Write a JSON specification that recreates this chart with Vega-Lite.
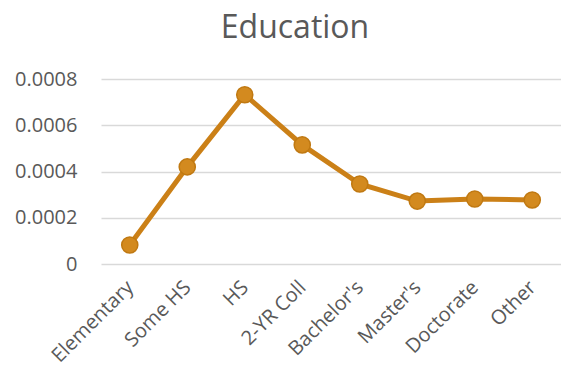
{
  "$schema": "https://vega.github.io/schema/vega-lite/v6.json",
  "width": 460,
  "height": 185,
  "autosize": {"type": "none"},
  "padding": {"left": 101, "top": 79, "right": 0, "bottom": 111},
  "background": "white",
  "title": {
    "text": "Education",
    "font": "Open Sans",
    "fontSize": 32,
    "fontWeight": "normal",
    "color": "#595959",
    "anchor": "middle",
    "frame": "group",
    "dx": -36,
    "offset": 24
  },
  "data": {
    "values": [
      {"level": "Elementary", "value": 0.000082},
      {"level": "Some HS", "value": 0.00042},
      {"level": "HS", "value": 0.000732},
      {"level": "2-YR Coll", "value": 0.000515},
      {"level": "Bachelor's", "value": 0.000346},
      {"level": "Master's", "value": 0.000272},
      {"level": "Doctorate", "value": 0.000281},
      {"level": "Other", "value": 0.000277}
    ]
  },
  "config": {
    "view": {"stroke": null},
    "axis": {
      "labelFont": "Open Sans",
      "labelColor": "#595959",
      "labelFontSize": 20,
      "domain": false,
      "ticks": false,
      "title": null
    }
  },
  "encoding": {
    "x": {
      "field": "level",
      "type": "ordinal",
      "sort": null,
      "scale": {"paddingInner": 0, "paddingOuter": 0.5},
      "axis": {
        "labelAngle": -45,
        "labelAlign": "right",
        "labelBaseline": "middle",
        "labelPadding": 20,
        "grid": false
      }
    },
    "y": {
      "field": "value",
      "type": "quantitative",
      "scale": {"domain": [0, 0.0008], "nice": false},
      "axis": {
        "values": [0, 0.0002, 0.0004, 0.0006, 0.0008],
        "labelExpr": "datum.value == 0 ? '0' : format(datum.value, '.4f')",
        "labelPadding": 24,
        "grid": true,
        "gridColor": "#D9D9D9",
        "gridWidth": 1.5
      }
    }
  },
  "layer": [
    {
      "mark": {"type": "line", "color": "#CB8017", "strokeWidth": 5}
    },
    {
      "mark": {"type": "point", "filled": true, "size": 260, "fill": "#D38A1F", "stroke": "#C07912", "strokeWidth": 1.5, "opacity": 1}
    }
  ]
}
